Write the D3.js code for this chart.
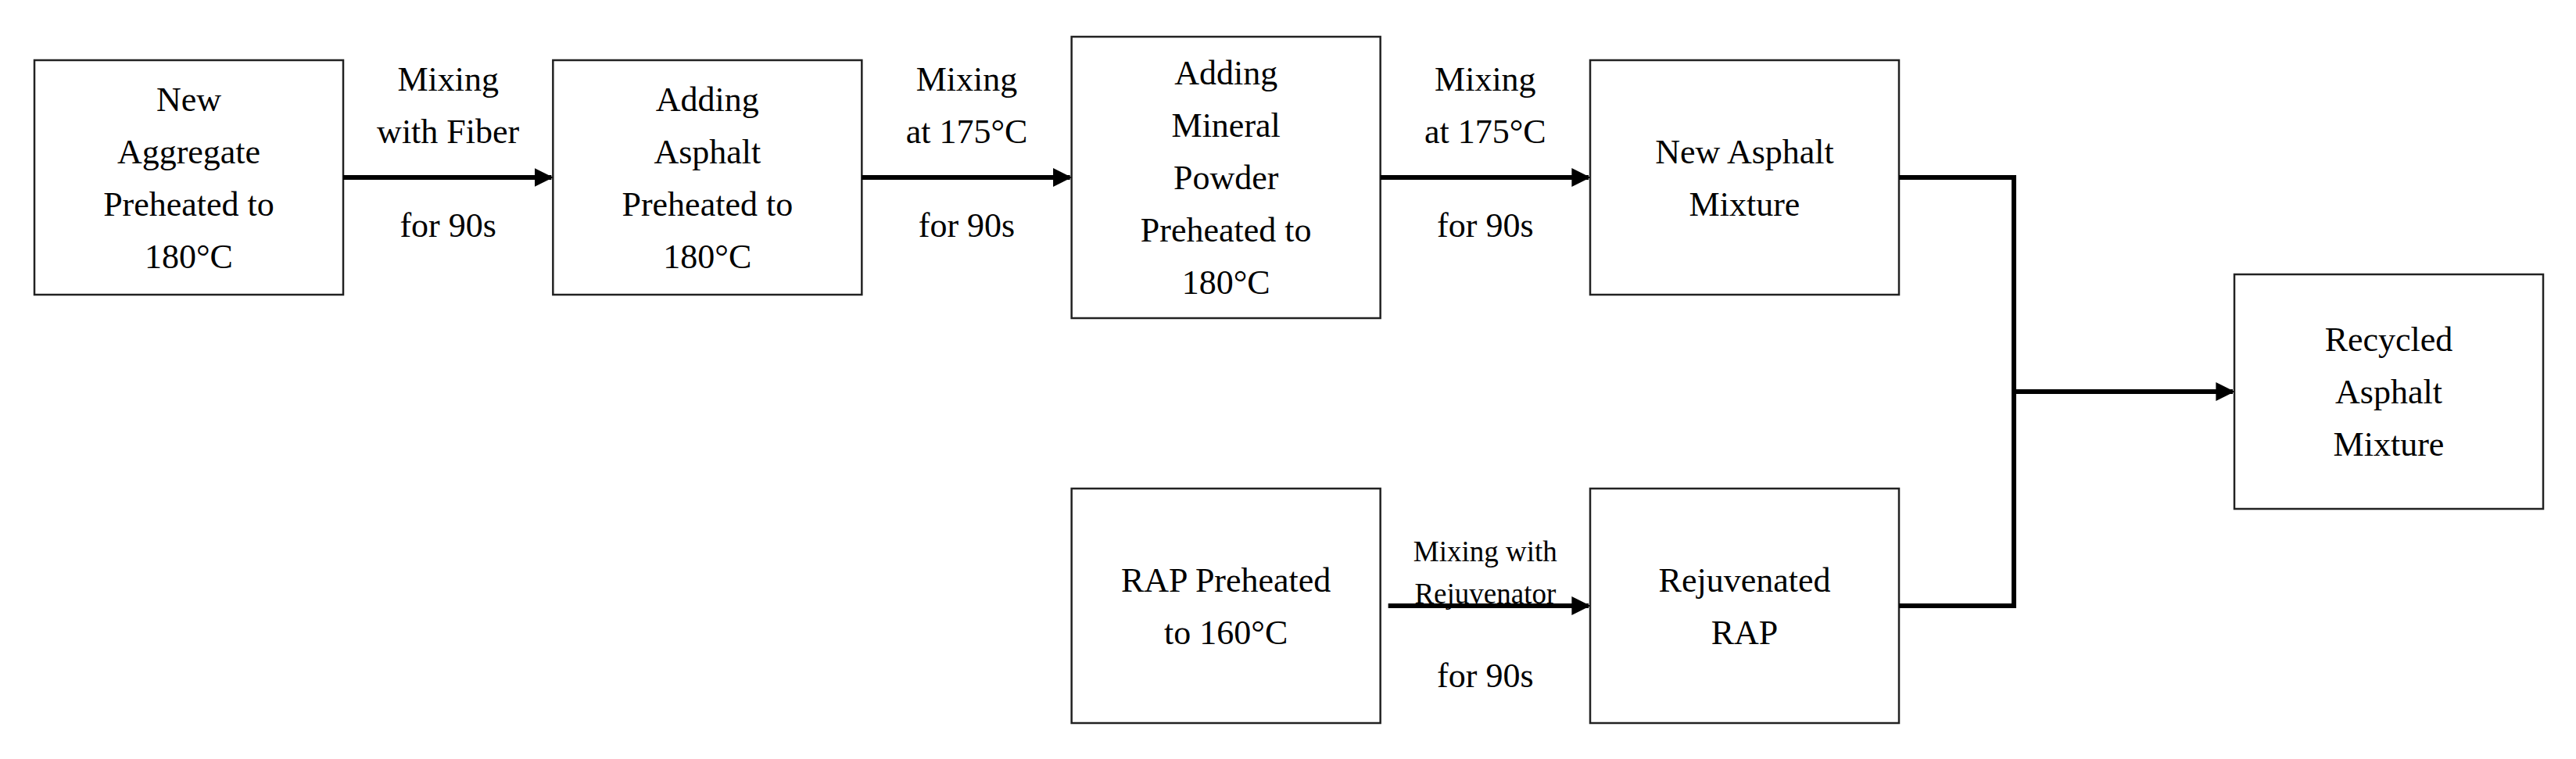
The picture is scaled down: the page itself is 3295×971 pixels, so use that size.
<!DOCTYPE html>
<html><head><meta charset="utf-8">
<script src="https://cdn.jsdelivr.net/npm/d3@7"></script>
<style>body{margin:0;background:#fff}</style></head>
<body><svg id="c" width="3295" height="971"></svg>
<script>
const nodeIds = ["agg","asph","min","newmix","rap","rejrap","recycled"];
const nodeLabels = [
 ["New","Aggregate","Preheated to","180°C"],
 ["Adding","Asphalt","Preheated to","180°C"],
 ["Adding","Mineral","Powder","Preheated to","180°C"],
 ["New Asphalt","Mixture"],
 ["RAP Preheated","to 160°C"],
 ["Rejuvenated","RAP"],
 ["Recycled","Asphalt","Mixture"]
];
const nodeCol = [0,1,2,3,2,3,4];
const nodeRow = [0,0,0,0,1,1,0.5];
const nodeTall = [1,1,1.2,1,1,1,1];
const edgeFrom = ["agg","asph","min","rap"];
const edgeTo = ["asph","min","newmix","rejrap"];
const edgeTop = [["Mixing","with Fiber"],["Mixing","at 175°C"],["Mixing","at 175°C"],["Mixing with","Rejuvenator"]];
const edgeBottom = ["for 90s","for 90s","for 90s","for 90s"];

const svg = d3.select("#c");
const x = d3.scaleLinear().domain([0,3]).range([44,2034]);
const xR = d3.scaleLinear().domain([4,4]).range([2858,2858]);
const y = d3.scaleLinear().domain([0,1]).range([227,775]);
const W = 395, H = 300, lh = 67;
const font = "'Liberation Serif','Times New Roman',serif";

const nodes = nodeIds.map((id,i)=>{
  const h = H*nodeTall[i];
  const left = nodeCol[i]===4 ? xR(4) : x(nodeCol[i]);
  return {id, left, cy:y(nodeRow[i]), w:W, h, lines:nodeLabels[i]};
});
const byId = Object.fromEntries(nodes.map(n=>[n.id,n]));

svg.append("defs").append("marker").attr("id","ah").attr("viewBox","0 0 10 10")
 .attr("refX",9).attr("refY",5).attr("markerWidth",4).attr("markerHeight",4)
 .attr("markerUnits","strokeWidth").attr("orient","auto")
 .append("path").attr("d","M0,0L10,5L0,10Z").attr("fill","#000");

const g = svg.append("g").selectAll("g").data(nodes).join("g");
g.append("rect").attr("x",d=>d.left).attr("y",d=>d.cy-d.h/2).attr("width",d=>d.w).attr("height",d=>d.h)
 .attr("fill","#fff").attr("stroke","#222").attr("stroke-width",2.5);
g.each(function(d){
  const n=d.lines.length;
  d3.select(this).selectAll("text").data(d.lines).join("text")
   .attr("x",d.left+d.w/2).attr("y",(t,i)=>d.cy+(i-(n-1)/2)*lh).attr("dy","0.35em")
   .attr("text-anchor","middle").attr("font-family",font).attr("font-size",44).text(t=>t);
});

edgeFrom.forEach((f,i)=>{
  const a=byId[f], b=byId[edgeTo[i]];
  const x1=a.left+a.w + (i===3?10:0), x2=b.left, yy=a.cy;
  svg.append("line").attr("x1",x1).attr("x2",x2-2).attr("y1",yy).attr("y2",yy)
   .attr("stroke","#000").attr("stroke-width",6).attr("marker-end","url(#ah)");
  const cx=(a.left+a.w+x2)/2;
  const small = i===3;
  const fs = small?37:44, sl = small?54:67;
  edgeTop[i].forEach((t,j)=>{
    svg.append("text").attr("x",cx).attr("y",yy-(small?70:126)+j*sl+(small?-70+70:0)).attr("dy","0.35em")
     .attr("text-anchor","middle").attr("font-family",font).attr("font-size",fs).text(t);
  });
  svg.append("text").attr("x",cx).attr("y",yy+ (small?89:61)).attr("dy","0.35em")
   .attr("text-anchor","middle").attr("font-family",font).attr("font-size",44).text(edgeBottom[i]);
});

// merge connector
const nm=byId.newmix, rr=byId.rejrap, rc=byId.recycled;
const mx=2576;
svg.append("path").attr("d",`M${nm.left+nm.w},${nm.cy}H${mx}V${rr.cy}H${rr.left+rr.w}`)
 .attr("fill","none").attr("stroke","#000").attr("stroke-width",6);
svg.append("line").attr("x1",mx).attr("x2",rc.left-2).attr("y1",rc.cy).attr("y2",rc.cy)
 .attr("stroke","#000").attr("stroke-width",6).attr("marker-end","url(#ah)");
</script></body></html>
